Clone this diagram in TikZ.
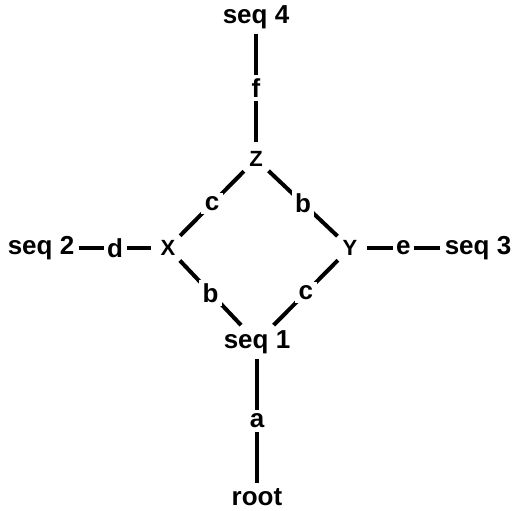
\documentclass[tikz,border=0pt]{standalone}
\usepackage{fontspec}
\setmainfont{Liberation Sans}
\usetikzlibrary{positioning}

\begin{document}
\begin{tikzpicture}[x=1pt,y=1pt,
		seqnode/.style={font=\fontsize{26}{30}\selectfont\bfseries, inner sep=5pt},
		vertex/.style={circle, font=\fontsize{22}{26}\selectfont\bfseries, minimum size=34pt, inner sep=0pt},
		lbl/.style={midway, fill=white, font=\fontsize{26}{30}\selectfont\bfseries, inner sep=3.5pt},
		edge/.style={line width=4pt}]
		\useasboundingbox (0,0) rectangle (512,511);
		%\draw[help lines] (0,0) grid (512,511);
		\node[seqnode] (seq4) at (256,494) {seq 4};
		\node[vertex] (Z) at (256,352) {Z};
		\node[vertex] (X) at (168,263) {X};
		\node[vertex] (Y) at (350,263) {Y};
		\node[seqnode] (seq1) at (257,169) {seq 1};
		\node[seqnode] (root) at (257,14) {root};
		\node[seqnode] (seq2) at (41,263) {seq 2};
		\node[seqnode] (seq3) at (478,263) {seq 3};
		\draw[edge] (seq4) -- node[lbl] {f} (Z);
		\draw[edge] (Z) -- node[lbl] {c} (X);
		\draw[edge] (Z) -- node[lbl] {b} (Y);
		\draw[edge] (X) -- node[lbl] {b} (seq1);
		\draw[edge] (Y) -- node[lbl] {c} (seq1);
		\draw[edge] (seq1) -- node[lbl] {a} (root);
		\draw[edge] (seq2) -- node[lbl] {d} (X);
		\draw[edge] (Y) -- node[lbl] {e} (seq3);
	\end{tikzpicture}
\end{document}
